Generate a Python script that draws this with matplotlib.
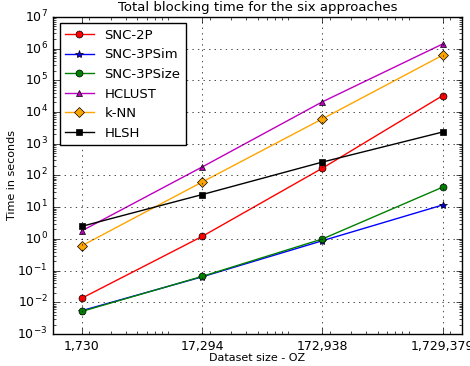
import matplotlib
matplotlib.use("Agg")
import matplotlib.pyplot as plt
import matplotlib.ticker as mticker

plt.style.use("classic")

sizes = [1730, 17294, 172938, 1729379]
size_labels = ["1,730", "17,294", "172,938", "1,729,379"]

snc_2p = [0.0136, 1.2, 170, 33000]
snc_3psim = [0.0055, 0.064, 0.88, 11.8]
snc_3psize = [0.0052, 0.066, 1.0, 43]
hclust = [1.8, 185, 21000, 1.4e6]
knn = [0.61, 62, 6100, 6.2e5]
hlsh = [2.5, 25, 265, 2350]

fig = plt.figure(figsize=(4.7, 3.66), dpi=100)
ax = fig.add_axes([0.113, 0.087, 0.87, 0.867])

ax.plot(sizes, snc_2p, color="red", marker="o", ms=5, label="SNC-2P")
ax.plot(sizes, snc_3psim, color="blue", marker="*", ms=6, label="SNC-3PSim")
ax.plot(sizes, snc_3psize, color="green", marker="o", ms=5, label="SNC-3PSize")
ax.plot(sizes, hclust, color="m", marker="^", ms=5, label="HCLUST")
ax.plot(sizes, knn, color="orange", marker="D", ms=5, label="k-NN")
ax.plot(sizes, hlsh, color="black", marker="s", ms=5, label="HLSH")

ax.set_xscale("log")
ax.set_yscale("log")
ax.set_xlim(1000, 2.5e6)
ax.set_ylim(1e-3, 1e7)
ax.set_xticks(sizes)
ax.set_xticklabels(size_labels)
ax.xaxis.set_minor_formatter(mticker.NullFormatter())
ax.tick_params(labelsize=9)
ax.grid(True, which="major")

ax.set_title("Total blocking time for the six approaches", fontsize=9.5, pad=4)
ax.set_xlabel("Dataset size - OZ", fontsize=8, labelpad=0)
ax.set_ylabel("Time in seconds", fontsize=8, labelpad=0)
ax.legend(loc="upper left", fontsize=9.5, numpoints=1, handlelength=2.2)

fig.savefig("out.png", dpi=100)
